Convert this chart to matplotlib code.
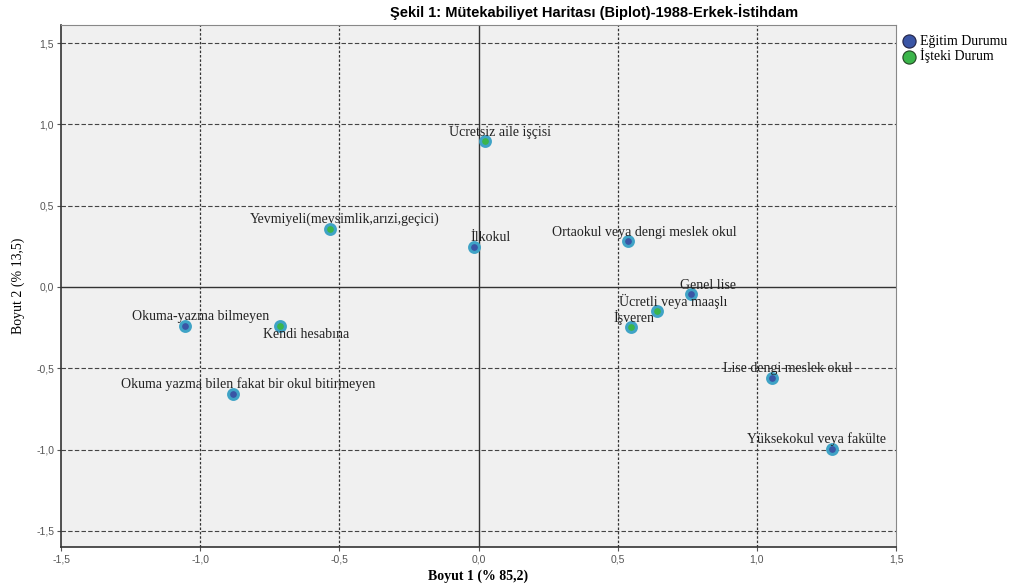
import matplotlib.pyplot as plt
import numpy as np

# category points (Boyut 1, Boyut 2)
egitim_labels = ["Okuma-yazma bilmeyen", "Okuma yazma bilen fakat bir okul bitirmeyen",
                 "İlkokul", "Ortaokul veya dengi meslek okul", "Genel lise",
                 "Lise dengi meslek okul", "Yüksekokul veya fakülte"]
egitim_x = [-1.055, -0.882, -0.016, 0.537, 0.764, 1.055, 1.270]
egitim_y = [-0.240, -0.658, 0.246, 0.283, -0.043, -0.559, -0.996]

isteki_labels = ["Ücretsiz aile işçisi", "Yevmiyeli(mevsimlik,arızi,geçici)",
                 "Ücretli veya maaşlı", "İşveren", "Kendi hesabına"]
isteki_x = [0.023, -0.534, 0.641, 0.548, -0.713]
isteki_y = [0.897, 0.356, -0.148, -0.246, -0.240]

ticks = [-1.5, -1.0, -0.5, 0.0, 0.5, 1.0, 1.5]
tick_labels = ["-1,5", "-1,0", "-0,5", "0,0", "0,5", "1,0", "1,5"]

# label offsets in points (dx, dy)
egitim_off = [(11, 7), (11, 7), (12, 7), (12, 6), (12, 6), (11, 7), (-11, 7)]
isteki_off = [(11, 7), (11, 7), (12, 7), (2, 7), (19, -6)]

fig = plt.figure(figsize=(10.09, 5.84), dpi=100)
ax = fig.add_axes([0.0605, 0.063, 0.8275, 0.894])
ax.set_facecolor("#f0f0f0")
ax.set_xlim(-1.5, 1.5)
ax.set_ylim(-1.6, 1.61)

for v in [-1.0, -0.5, 0.5, 1.0]:
    ax.axvline(v, color="#333333", lw=0.9, ls=(0, (2, 1.5)), zorder=1)
for v in [-1.5, -1.0, -0.5, 0.5, 1.0, 1.5]:
    ax.axhline(v, color="#444444", lw=0.8, ls=(0, (4, 2)), zorder=1)
ax.axvline(0, color="#333333", lw=1.0, zorder=1)
ax.axhline(0, color="#333333", lw=1.0, zorder=1)

ax.scatter(egitim_x, egitim_y, s=50, c="#3a55a5", edgecolors="#3fa3c6", linewidths=2.2, zorder=3)
ax.scatter(isteki_x, isteki_y, s=50, c="#3bb54a", edgecolors="#3fa3c6", linewidths=2.2, zorder=3)

for lab, x, y, off in zip(egitim_labels + isteki_labels, egitim_x + isteki_x,
                          egitim_y + isteki_y, egitim_off + isteki_off):
    ax.annotate(lab, (x, y), xytext=off, textcoords="offset points", ha="center", va="center",
                fontsize=10, family="Liberation Serif", color="#222222", zorder=4)

ax.set_xticks(ticks)
ax.set_xticklabels(tick_labels)
ax.set_yticks(ticks)
ax.set_yticklabels(tick_labels)
ax.tick_params(labelsize=7.5, labelcolor="#555555", color="#555555", length=3, width=0.8, pad=2)
for lab in ax.get_xticklabels() + ax.get_yticklabels():
    lab.set_family("Liberation Sans")
for sp in ["top", "right"]:
    ax.spines[sp].set_color("#888888")
for sp in ["left", "bottom"]:
    ax.spines[sp].set_color("#333333")
    ax.spines[sp].set_linewidth(1.2)

ax.set_xlabel("Boyut 1 (% 85,2)", fontsize=10, fontweight="bold", family="Liberation Serif", labelpad=4)
ax.set_ylabel("Boyut 2 (% 13,5)", fontsize=10, family="Liberation Serif", labelpad=8)

fig.text(0.589, 0.98, "Şekil 1: Mütekabiliyet Haritası (Biplot)-1988-Erkek-İstihdam",
         ha="center", va="center", fontsize=10.5, fontweight="bold", family="Liberation Sans")

h1 = ax.scatter([], [], s=90, c="#3a55a5", edgecolors="#222244", linewidths=0.8)
h2 = ax.scatter([], [], s=90, c="#3bb54a", edgecolors="#224422", linewidths=0.8)
leg = fig.legend([h1, h2], ["Eğitim Durumu", "İşteki Durum"], loc="upper left",
                 bbox_to_anchor=(0.884, 0.95), frameon=False, handletextpad=0.0,
                 labelspacing=0.05, borderaxespad=0, handlelength=1.6,
                 prop={"family": "Liberation Serif", "size": 10})

fig.savefig("out.png", dpi=100)
